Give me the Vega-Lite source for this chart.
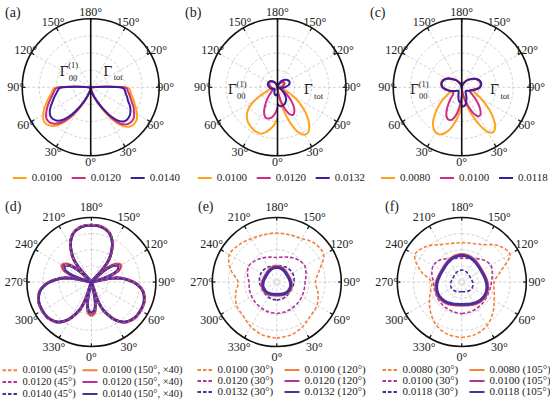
{
  "$schema": "https://vega.github.io/schema/vega-lite/v6.json",
  "padding": 0,
  "background": "white",
  "spacing": 0,
  "config": {
    "view": {"stroke": null},
    "axis": {"disable": true},
    "font": "Liberation Serif",
    "text": {"font": "Liberation Serif", "color": "#222"},
    "legend": {"padding": 0}
  },
  "datasets": {
    "ring": [{"r": 0.25}, {"r": 0.5}, {"r": 0.75}],
    "ang": [
      {"a": 0, "h": "0°", "f": "0°"}, {"a": 30, "h": "30°", "f": "30°"}, {"a": 60, "h": "60°", "f": "60°"},
      {"a": 90, "h": "90°", "f": "90°"}, {"a": 120, "h": "120°", "f": "120°"}, {"a": 150, "h": "150°", "f": "150°"},
      {"a": 180, "h": "180°", "f": "180°"}, {"a": 210, "h": "150°", "f": "210°"}, {"a": 240, "h": "120°", "f": "240°"},
      {"a": 270, "h": "90°", "f": "270°"}, {"a": 300, "h": "60°", "f": "300°"}, {"a": 330, "h": "30°", "f": "330°"}
    ],
    "A": [
      {"s":"0.0100","q":"t","a":0,"r":0},{"s":"0.0100","q":"t","a":10,"r":0.06},{"s":"0.0100","q":"t","a":20,"r":0.17},{"s":"0.0100","q":"t","a":25,"r":0.27},{"s":"0.0100","q":"t","a":30,"r":0.42},{"s":"0.0100","q":"t","a":35,"r":0.6},{"s":"0.0100","q":"t","a":40,"r":0.74},{"s":"0.0100","q":"t","a":45,"r":0.81},{"s":"0.0100","q":"t","a":50,"r":0.83},{"s":"0.0100","q":"t","a":55,"r":0.82},{"s":"0.0100","q":"t","a":60,"r":0.78},{"s":"0.0100","q":"t","a":65,"r":0.73},{"s":"0.0100","q":"t","a":70,"r":0.68},{"s":"0.0100","q":"t","a":75,"r":0.64},{"s":"0.0100","q":"t","a":80,"r":0.6},{"s":"0.0100","q":"t","a":85,"r":0.58},{"s":"0.0100","q":"t","a":88,"r":0.56},{"s":"0.0100","q":"t","a":90,"r":0.5},{"s":"0.0100","q":"t","a":92,"r":0.25},{"s":"0.0100","q":"t","a":94,"r":0.08},{"s":"0.0100","q":"t","a":96,"r":0},
      {"s":"0.0100","q":"l","a":0,"r":0},{"s":"0.0100","q":"l","a":10,"r":0.05},{"s":"0.0100","q":"l","a":20,"r":0.15},{"s":"0.0100","q":"l","a":25,"r":0.25},{"s":"0.0100","q":"l","a":30,"r":0.4},{"s":"0.0100","q":"l","a":35,"r":0.57},{"s":"0.0100","q":"l","a":40,"r":0.71},{"s":"0.0100","q":"l","a":45,"r":0.8},{"s":"0.0100","q":"l","a":50,"r":0.84},{"s":"0.0100","q":"l","a":55,"r":0.84},{"s":"0.0100","q":"l","a":60,"r":0.8},{"s":"0.0100","q":"l","a":65,"r":0.75},{"s":"0.0100","q":"l","a":70,"r":0.69},{"s":"0.0100","q":"l","a":75,"r":0.64},{"s":"0.0100","q":"l","a":80,"r":0.59},{"s":"0.0100","q":"l","a":85,"r":0.56},{"s":"0.0100","q":"l","a":88,"r":0.54},{"s":"0.0100","q":"l","a":90,"r":0.48},{"s":"0.0100","q":"l","a":92,"r":0.24},{"s":"0.0100","q":"l","a":94,"r":0.08},{"s":"0.0100","q":"l","a":96,"r":0},
      {"s":"0.0120","q":"t","a":0,"r":0},{"s":"0.0120","q":"t","a":10,"r":0.06},{"s":"0.0120","q":"t","a":20,"r":0.16},{"s":"0.0120","q":"t","a":25,"r":0.25},{"s":"0.0120","q":"t","a":30,"r":0.39},{"s":"0.0120","q":"t","a":35,"r":0.56},{"s":"0.0120","q":"t","a":40,"r":0.7},{"s":"0.0120","q":"t","a":45,"r":0.76},{"s":"0.0120","q":"t","a":50,"r":0.78},{"s":"0.0120","q":"t","a":55,"r":0.77},{"s":"0.0120","q":"t","a":60,"r":0.73},{"s":"0.0120","q":"t","a":65,"r":0.69},{"s":"0.0120","q":"t","a":70,"r":0.64},{"s":"0.0120","q":"t","a":75,"r":0.6},{"s":"0.0120","q":"t","a":80,"r":0.57},{"s":"0.0120","q":"t","a":85,"r":0.54},{"s":"0.0120","q":"t","a":88,"r":0.53},{"s":"0.0120","q":"t","a":90,"r":0.47},{"s":"0.0120","q":"t","a":92,"r":0.24},{"s":"0.0120","q":"t","a":94,"r":0.08},{"s":"0.0120","q":"t","a":96,"r":0},
      {"s":"0.0120","q":"l","a":0,"r":0},{"s":"0.0120","q":"l","a":10,"r":0.05},{"s":"0.0120","q":"l","a":20,"r":0.14},{"s":"0.0120","q":"l","a":25,"r":0.24},{"s":"0.0120","q":"l","a":30,"r":0.38},{"s":"0.0120","q":"l","a":35,"r":0.54},{"s":"0.0120","q":"l","a":40,"r":0.67},{"s":"0.0120","q":"l","a":45,"r":0.75},{"s":"0.0120","q":"l","a":50,"r":0.79},{"s":"0.0120","q":"l","a":55,"r":0.79},{"s":"0.0120","q":"l","a":60,"r":0.75},{"s":"0.0120","q":"l","a":65,"r":0.7},{"s":"0.0120","q":"l","a":70,"r":0.65},{"s":"0.0120","q":"l","a":75,"r":0.6},{"s":"0.0120","q":"l","a":80,"r":0.56},{"s":"0.0120","q":"l","a":85,"r":0.53},{"s":"0.0120","q":"l","a":88,"r":0.51},{"s":"0.0120","q":"l","a":90,"r":0.45},{"s":"0.0120","q":"l","a":92,"r":0.23},{"s":"0.0120","q":"l","a":94,"r":0.08},{"s":"0.0120","q":"l","a":96,"r":0},
      {"s":"0.0140","q":"t","a":0,"r":0},{"s":"0.0140","q":"t","a":10,"r":0.05},{"s":"0.0140","q":"t","a":20,"r":0.15},{"s":"0.0140","q":"t","a":25,"r":0.23},{"s":"0.0140","q":"t","a":30,"r":0.36},{"s":"0.0140","q":"t","a":35,"r":0.52},{"s":"0.0140","q":"t","a":40,"r":0.64},{"s":"0.0140","q":"t","a":45,"r":0.7},{"s":"0.0140","q":"t","a":50,"r":0.71},{"s":"0.0140","q":"t","a":55,"r":0.7},{"s":"0.0140","q":"t","a":60,"r":0.67},{"s":"0.0140","q":"t","a":65,"r":0.63},{"s":"0.0140","q":"t","a":70,"r":0.58},{"s":"0.0140","q":"t","a":75,"r":0.55},{"s":"0.0140","q":"t","a":80,"r":0.52},{"s":"0.0140","q":"t","a":85,"r":0.5},{"s":"0.0140","q":"t","a":88,"r":0.48},{"s":"0.0140","q":"t","a":90,"r":0.43},{"s":"0.0140","q":"t","a":92,"r":0.22},{"s":"0.0140","q":"t","a":94,"r":0.07},{"s":"0.0140","q":"t","a":96,"r":0},
      {"s":"0.0140","q":"l","a":0,"r":0},{"s":"0.0140","q":"l","a":10,"r":0.04},{"s":"0.0140","q":"l","a":20,"r":0.13},{"s":"0.0140","q":"l","a":25,"r":0.22},{"s":"0.0140","q":"l","a":30,"r":0.34},{"s":"0.0140","q":"l","a":35,"r":0.49},{"s":"0.0140","q":"l","a":40,"r":0.61},{"s":"0.0140","q":"l","a":45,"r":0.69},{"s":"0.0140","q":"l","a":50,"r":0.72},{"s":"0.0140","q":"l","a":55,"r":0.72},{"s":"0.0140","q":"l","a":60,"r":0.69},{"s":"0.0140","q":"l","a":65,"r":0.64},{"s":"0.0140","q":"l","a":70,"r":0.59},{"s":"0.0140","q":"l","a":75,"r":0.55},{"s":"0.0140","q":"l","a":80,"r":0.51},{"s":"0.0140","q":"l","a":85,"r":0.48},{"s":"0.0140","q":"l","a":88,"r":0.46},{"s":"0.0140","q":"l","a":90,"r":0.41},{"s":"0.0140","q":"l","a":92,"r":0.21},{"s":"0.0140","q":"l","a":94,"r":0.07},{"s":"0.0140","q":"l","a":96,"r":0}
    ],
    "B": [
      {"s":"0.0100","q":"t","a":0,"r":0},{"s":"0.0100","q":"t","a":5,"r":0.05},{"s":"0.0100","q":"t","a":10,"r":0.18},{"s":"0.0100","q":"t","a":15,"r":0.36},{"s":"0.0100","q":"t","a":20,"r":0.56},{"s":"0.0100","q":"t","a":25,"r":0.73},{"s":"0.0100","q":"t","a":30,"r":0.8},{"s":"0.0100","q":"t","a":35,"r":0.79},{"s":"0.0100","q":"t","a":40,"r":0.72},{"s":"0.0100","q":"t","a":45,"r":0.62},{"s":"0.0100","q":"t","a":50,"r":0.5},{"s":"0.0100","q":"t","a":55,"r":0.38},{"s":"0.0100","q":"t","a":60,"r":0.27},{"s":"0.0100","q":"t","a":65,"r":0.18},{"s":"0.0100","q":"t","a":70,"r":0.1},{"s":"0.0100","q":"t","a":75,"r":0.05},{"s":"0.0100","q":"t","a":80,"r":0.02},{"s":"0.0100","q":"t","a":85,"r":0.01},{"s":"0.0100","q":"t","a":90,"r":0.02},{"s":"0.0100","q":"t","a":100,"r":0.05},{"s":"0.0100","q":"t","a":110,"r":0.08},{"s":"0.0100","q":"t","a":120,"r":0.1},{"s":"0.0100","q":"t","a":130,"r":0.1},{"s":"0.0100","q":"t","a":140,"r":0.09},{"s":"0.0100","q":"t","a":150,"r":0.06},{"s":"0.0100","q":"t","a":160,"r":0.03},{"s":"0.0100","q":"t","a":170,"r":0.01},{"s":"0.0100","q":"t","a":180,"r":0},
      {"s":"0.0100","q":"l","a":0,"r":0.45},{"s":"0.0100","q":"l","a":5,"r":0.55},{"s":"0.0100","q":"l","a":10,"r":0.62},{"s":"0.0100","q":"l","a":15,"r":0.68},{"s":"0.0100","q":"l","a":20,"r":0.72},{"s":"0.0100","q":"l","a":25,"r":0.72},{"s":"0.0100","q":"l","a":30,"r":0.71},{"s":"0.0100","q":"l","a":35,"r":0.69},{"s":"0.0100","q":"l","a":40,"r":0.67},{"s":"0.0100","q":"l","a":45,"r":0.63},{"s":"0.0100","q":"l","a":50,"r":0.58},{"s":"0.0100","q":"l","a":55,"r":0.5},{"s":"0.0100","q":"l","a":60,"r":0.38},{"s":"0.0100","q":"l","a":65,"r":0.26},{"s":"0.0100","q":"l","a":70,"r":0.17},{"s":"0.0100","q":"l","a":75,"r":0.11},{"s":"0.0100","q":"l","a":80,"r":0.08},{"s":"0.0100","q":"l","a":85,"r":0.08},{"s":"0.0100","q":"l","a":90,"r":0.09},{"s":"0.0100","q":"l","a":100,"r":0.11},{"s":"0.0100","q":"l","a":110,"r":0.13},{"s":"0.0100","q":"l","a":120,"r":0.14},{"s":"0.0100","q":"l","a":130,"r":0.14},{"s":"0.0100","q":"l","a":140,"r":0.12},{"s":"0.0100","q":"l","a":150,"r":0.09},{"s":"0.0100","q":"l","a":160,"r":0.05},{"s":"0.0100","q":"l","a":170,"r":0.02},{"s":"0.0100","q":"l","a":180,"r":0},
      {"s":"0.0120","q":"t","a":0,"r":0},{"s":"0.0120","q":"t","a":5,"r":0.04},{"s":"0.0120","q":"t","a":10,"r":0.12},{"s":"0.0120","q":"t","a":15,"r":0.24},{"s":"0.0120","q":"t","a":20,"r":0.36},{"s":"0.0120","q":"t","a":25,"r":0.44},{"s":"0.0120","q":"t","a":30,"r":0.46},{"s":"0.0120","q":"t","a":35,"r":0.43},{"s":"0.0120","q":"t","a":40,"r":0.37},{"s":"0.0120","q":"t","a":45,"r":0.29},{"s":"0.0120","q":"t","a":50,"r":0.21},{"s":"0.0120","q":"t","a":55,"r":0.14},{"s":"0.0120","q":"t","a":60,"r":0.09},{"s":"0.0120","q":"t","a":65,"r":0.06},{"s":"0.0120","q":"t","a":70,"r":0.04},{"s":"0.0120","q":"t","a":75,"r":0.03},{"s":"0.0120","q":"t","a":80,"r":0.03},{"s":"0.0120","q":"t","a":85,"r":0.04},{"s":"0.0120","q":"t","a":90,"r":0.05},{"s":"0.0120","q":"t","a":100,"r":0.08},{"s":"0.0120","q":"t","a":110,"r":0.1},{"s":"0.0120","q":"t","a":120,"r":0.12},{"s":"0.0120","q":"t","a":130,"r":0.12},{"s":"0.0120","q":"t","a":140,"r":0.1},{"s":"0.0120","q":"t","a":150,"r":0.07},{"s":"0.0120","q":"t","a":160,"r":0.04},{"s":"0.0120","q":"t","a":170,"r":0.01},{"s":"0.0120","q":"t","a":180,"r":0},
      {"s":"0.0120","q":"l","a":0,"r":0.3},{"s":"0.0120","q":"l","a":5,"r":0.38},{"s":"0.0120","q":"l","a":10,"r":0.44},{"s":"0.0120","q":"l","a":15,"r":0.47},{"s":"0.0120","q":"l","a":20,"r":0.48},{"s":"0.0120","q":"l","a":25,"r":0.45},{"s":"0.0120","q":"l","a":30,"r":0.39},{"s":"0.0120","q":"l","a":35,"r":0.31},{"s":"0.0120","q":"l","a":40,"r":0.24},{"s":"0.0120","q":"l","a":45,"r":0.18},{"s":"0.0120","q":"l","a":50,"r":0.13},{"s":"0.0120","q":"l","a":55,"r":0.1},{"s":"0.0120","q":"l","a":60,"r":0.08},{"s":"0.0120","q":"l","a":65,"r":0.07},{"s":"0.0120","q":"l","a":70,"r":0.06},{"s":"0.0120","q":"l","a":75,"r":0.06},{"s":"0.0120","q":"l","a":80,"r":0.07},{"s":"0.0120","q":"l","a":85,"r":0.08},{"s":"0.0120","q":"l","a":90,"r":0.09},{"s":"0.0120","q":"l","a":100,"r":0.11},{"s":"0.0120","q":"l","a":110,"r":0.13},{"s":"0.0120","q":"l","a":120,"r":0.14},{"s":"0.0120","q":"l","a":130,"r":0.13},{"s":"0.0120","q":"l","a":140,"r":0.11},{"s":"0.0120","q":"l","a":150,"r":0.08},{"s":"0.0120","q":"l","a":160,"r":0.05},{"s":"0.0120","q":"l","a":170,"r":0.02},{"s":"0.0120","q":"l","a":180,"r":0},
      {"s":"0.0132","q":"t","a":0,"r":0.24},{"s":"0.0132","q":"t","a":5,"r":0.27},{"s":"0.0132","q":"t","a":10,"r":0.28},{"s":"0.0132","q":"t","a":15,"r":0.28},{"s":"0.0132","q":"t","a":20,"r":0.27},{"s":"0.0132","q":"t","a":25,"r":0.26},{"s":"0.0132","q":"t","a":30,"r":0.24},{"s":"0.0132","q":"t","a":35,"r":0.22},{"s":"0.0132","q":"t","a":40,"r":0.19},{"s":"0.0132","q":"t","a":45,"r":0.15},{"s":"0.0132","q":"t","a":50,"r":0.11},{"s":"0.0132","q":"t","a":55,"r":0.08},{"s":"0.0132","q":"t","a":60,"r":0.05},{"s":"0.0132","q":"t","a":65,"r":0.03},{"s":"0.0132","q":"t","a":70,"r":0.02},{"s":"0.0132","q":"t","a":75,"r":0.03},{"s":"0.0132","q":"t","a":80,"r":0.05},{"s":"0.0132","q":"t","a":85,"r":0.08},{"s":"0.0132","q":"t","a":90,"r":0.11},{"s":"0.0132","q":"t","a":100,"r":0.16},{"s":"0.0132","q":"t","a":110,"r":0.19},{"s":"0.0132","q":"t","a":120,"r":0.19},{"s":"0.0132","q":"t","a":130,"r":0.17},{"s":"0.0132","q":"t","a":140,"r":0.14},{"s":"0.0132","q":"t","a":150,"r":0.1},{"s":"0.0132","q":"t","a":160,"r":0.05},{"s":"0.0132","q":"t","a":170,"r":0.02},{"s":"0.0132","q":"t","a":180,"r":0},
      {"s":"0.0132","q":"l","a":0,"r":0.1},{"s":"0.0132","q":"l","a":5,"r":0.11},{"s":"0.0132","q":"l","a":10,"r":0.12},{"s":"0.0132","q":"l","a":15,"r":0.12},{"s":"0.0132","q":"l","a":20,"r":0.11},{"s":"0.0132","q":"l","a":25,"r":0.1},{"s":"0.0132","q":"l","a":30,"r":0.09},{"s":"0.0132","q":"l","a":35,"r":0.08},{"s":"0.0132","q":"l","a":40,"r":0.07},{"s":"0.0132","q":"l","a":45,"r":0.06},{"s":"0.0132","q":"l","a":50,"r":0.05},{"s":"0.0132","q":"l","a":55,"r":0.05},{"s":"0.0132","q":"l","a":60,"r":0.05},{"s":"0.0132","q":"l","a":65,"r":0.06},{"s":"0.0132","q":"l","a":70,"r":0.07},{"s":"0.0132","q":"l","a":75,"r":0.08},{"s":"0.0132","q":"l","a":80,"r":0.1},{"s":"0.0132","q":"l","a":85,"r":0.11},{"s":"0.0132","q":"l","a":90,"r":0.12},{"s":"0.0132","q":"l","a":100,"r":0.14},{"s":"0.0132","q":"l","a":110,"r":0.15},{"s":"0.0132","q":"l","a":120,"r":0.15},{"s":"0.0132","q":"l","a":130,"r":0.14},{"s":"0.0132","q":"l","a":140,"r":0.11},{"s":"0.0132","q":"l","a":150,"r":0.08},{"s":"0.0132","q":"l","a":160,"r":0.04},{"s":"0.0132","q":"l","a":170,"r":0.02},{"s":"0.0132","q":"l","a":180,"r":0}
    ],
    "C": [
      {"s":"0.0080","q":"t","a":0,"r":0},{"s":"0.0080","q":"t","a":5,"r":0.04},{"s":"0.0080","q":"t","a":10,"r":0.12},{"s":"0.0080","q":"t","a":15,"r":0.25},{"s":"0.0080","q":"t","a":20,"r":0.42},{"s":"0.0080","q":"t","a":25,"r":0.6},{"s":"0.0080","q":"t","a":30,"r":0.75},{"s":"0.0080","q":"t","a":35,"r":0.8},{"s":"0.0080","q":"t","a":40,"r":0.76},{"s":"0.0080","q":"t","a":45,"r":0.66},{"s":"0.0080","q":"t","a":50,"r":0.54},{"s":"0.0080","q":"t","a":55,"r":0.42},{"s":"0.0080","q":"t","a":60,"r":0.32},{"s":"0.0080","q":"t","a":65,"r":0.24},{"s":"0.0080","q":"t","a":70,"r":0.19},{"s":"0.0080","q":"t","a":75,"r":0.17},{"s":"0.0080","q":"t","a":80,"r":0.18},{"s":"0.0080","q":"t","a":85,"r":0.22},{"s":"0.0080","q":"t","a":90,"r":0.26},{"s":"0.0080","q":"t","a":100,"r":0.29},{"s":"0.0080","q":"t","a":110,"r":0.28},{"s":"0.0080","q":"t","a":120,"r":0.24},{"s":"0.0080","q":"t","a":130,"r":0.19},{"s":"0.0080","q":"t","a":140,"r":0.14},{"s":"0.0080","q":"t","a":150,"r":0.09},{"s":"0.0080","q":"t","a":160,"r":0.05},{"s":"0.0080","q":"t","a":170,"r":0.02},{"s":"0.0080","q":"t","a":180,"r":0},
      {"s":"0.0080","q":"l","a":0,"r":0.25},{"s":"0.0080","q":"l","a":5,"r":0.38},{"s":"0.0080","q":"l","a":10,"r":0.5},{"s":"0.0080","q":"l","a":15,"r":0.62},{"s":"0.0080","q":"l","a":20,"r":0.71},{"s":"0.0080","q":"l","a":25,"r":0.76},{"s":"0.0080","q":"l","a":30,"r":0.76},{"s":"0.0080","q":"l","a":35,"r":0.72},{"s":"0.0080","q":"l","a":40,"r":0.65},{"s":"0.0080","q":"l","a":45,"r":0.55},{"s":"0.0080","q":"l","a":50,"r":0.45},{"s":"0.0080","q":"l","a":55,"r":0.36},{"s":"0.0080","q":"l","a":60,"r":0.27},{"s":"0.0080","q":"l","a":65,"r":0.21},{"s":"0.0080","q":"l","a":70,"r":0.18},{"s":"0.0080","q":"l","a":75,"r":0.18},{"s":"0.0080","q":"l","a":80,"r":0.21},{"s":"0.0080","q":"l","a":85,"r":0.25},{"s":"0.0080","q":"l","a":90,"r":0.28},{"s":"0.0080","q":"l","a":100,"r":0.31},{"s":"0.0080","q":"l","a":110,"r":0.3},{"s":"0.0080","q":"l","a":120,"r":0.26},{"s":"0.0080","q":"l","a":130,"r":0.2},{"s":"0.0080","q":"l","a":140,"r":0.14},{"s":"0.0080","q":"l","a":150,"r":0.09},{"s":"0.0080","q":"l","a":160,"r":0.05},{"s":"0.0080","q":"l","a":170,"r":0.02},{"s":"0.0080","q":"l","a":180,"r":0},
      {"s":"0.0100","q":"t","a":0,"r":0},{"s":"0.0100","q":"t","a":5,"r":0.03},{"s":"0.0100","q":"t","a":10,"r":0.1},{"s":"0.0100","q":"t","a":15,"r":0.2},{"s":"0.0100","q":"t","a":20,"r":0.32},{"s":"0.0100","q":"t","a":25,"r":0.43},{"s":"0.0100","q":"t","a":30,"r":0.49},{"s":"0.0100","q":"t","a":35,"r":0.48},{"s":"0.0100","q":"t","a":40,"r":0.42},{"s":"0.0100","q":"t","a":45,"r":0.34},{"s":"0.0100","q":"t","a":50,"r":0.26},{"s":"0.0100","q":"t","a":55,"r":0.19},{"s":"0.0100","q":"t","a":60,"r":0.15},{"s":"0.0100","q":"t","a":65,"r":0.13},{"s":"0.0100","q":"t","a":70,"r":0.13},{"s":"0.0100","q":"t","a":75,"r":0.15},{"s":"0.0100","q":"t","a":80,"r":0.18},{"s":"0.0100","q":"t","a":85,"r":0.22},{"s":"0.0100","q":"t","a":90,"r":0.26},{"s":"0.0100","q":"t","a":100,"r":0.28},{"s":"0.0100","q":"t","a":110,"r":0.28},{"s":"0.0100","q":"t","a":120,"r":0.24},{"s":"0.0100","q":"t","a":130,"r":0.19},{"s":"0.0100","q":"t","a":140,"r":0.14},{"s":"0.0100","q":"t","a":150,"r":0.09},{"s":"0.0100","q":"t","a":160,"r":0.05},{"s":"0.0100","q":"t","a":170,"r":0.02},{"s":"0.0100","q":"t","a":180,"r":0},
      {"s":"0.0100","q":"l","a":0,"r":0.12},{"s":"0.0100","q":"l","a":5,"r":0.25},{"s":"0.0100","q":"l","a":10,"r":0.38},{"s":"0.0100","q":"l","a":15,"r":0.47},{"s":"0.0100","q":"l","a":20,"r":0.51},{"s":"0.0100","q":"l","a":25,"r":0.5},{"s":"0.0100","q":"l","a":30,"r":0.45},{"s":"0.0100","q":"l","a":35,"r":0.37},{"s":"0.0100","q":"l","a":40,"r":0.29},{"s":"0.0100","q":"l","a":45,"r":0.22},{"s":"0.0100","q":"l","a":50,"r":0.17},{"s":"0.0100","q":"l","a":55,"r":0.15},{"s":"0.0100","q":"l","a":60,"r":0.14},{"s":"0.0100","q":"l","a":65,"r":0.15},{"s":"0.0100","q":"l","a":70,"r":0.17},{"s":"0.0100","q":"l","a":75,"r":0.19},{"s":"0.0100","q":"l","a":80,"r":0.22},{"s":"0.0100","q":"l","a":85,"r":0.25},{"s":"0.0100","q":"l","a":90,"r":0.28},{"s":"0.0100","q":"l","a":100,"r":0.3},{"s":"0.0100","q":"l","a":110,"r":0.29},{"s":"0.0100","q":"l","a":120,"r":0.25},{"s":"0.0100","q":"l","a":130,"r":0.19},{"s":"0.0100","q":"l","a":140,"r":0.14},{"s":"0.0100","q":"l","a":150,"r":0.09},{"s":"0.0100","q":"l","a":160,"r":0.05},{"s":"0.0100","q":"l","a":170,"r":0.02},{"s":"0.0100","q":"l","a":180,"r":0},
      {"s":"0.0118","q":"t","a":0,"r":0.27},{"s":"0.0118","q":"t","a":5,"r":0.28},{"s":"0.0118","q":"t","a":10,"r":0.27},{"s":"0.0118","q":"t","a":15,"r":0.24},{"s":"0.0118","q":"t","a":20,"r":0.2},{"s":"0.0118","q":"t","a":25,"r":0.16},{"s":"0.0118","q":"t","a":30,"r":0.13},{"s":"0.0118","q":"t","a":35,"r":0.1},{"s":"0.0118","q":"t","a":40,"r":0.09},{"s":"0.0118","q":"t","a":45,"r":0.08},{"s":"0.0118","q":"t","a":50,"r":0.08},{"s":"0.0118","q":"t","a":55,"r":0.09},{"s":"0.0118","q":"t","a":60,"r":0.1},{"s":"0.0118","q":"t","a":65,"r":0.12},{"s":"0.0118","q":"t","a":70,"r":0.14},{"s":"0.0118","q":"t","a":75,"r":0.17},{"s":"0.0118","q":"t","a":80,"r":0.2},{"s":"0.0118","q":"t","a":85,"r":0.24},{"s":"0.0118","q":"t","a":90,"r":0.27},{"s":"0.0118","q":"t","a":100,"r":0.29},{"s":"0.0118","q":"t","a":110,"r":0.28},{"s":"0.0118","q":"t","a":120,"r":0.24},{"s":"0.0118","q":"t","a":130,"r":0.19},{"s":"0.0118","q":"t","a":140,"r":0.14},{"s":"0.0118","q":"t","a":150,"r":0.09},{"s":"0.0118","q":"t","a":160,"r":0.05},{"s":"0.0118","q":"t","a":170,"r":0.02},{"s":"0.0118","q":"t","a":180,"r":0},
      {"s":"0.0118","q":"l","a":0,"r":0.2},{"s":"0.0118","q":"l","a":5,"r":0.22},{"s":"0.0118","q":"l","a":10,"r":0.21},{"s":"0.0118","q":"l","a":15,"r":0.18},{"s":"0.0118","q":"l","a":20,"r":0.14},{"s":"0.0118","q":"l","a":25,"r":0.11},{"s":"0.0118","q":"l","a":30,"r":0.09},{"s":"0.0118","q":"l","a":35,"r":0.08},{"s":"0.0118","q":"l","a":40,"r":0.07},{"s":"0.0118","q":"l","a":45,"r":0.07},{"s":"0.0118","q":"l","a":50,"r":0.08},{"s":"0.0118","q":"l","a":55,"r":0.09},{"s":"0.0118","q":"l","a":60,"r":0.11},{"s":"0.0118","q":"l","a":65,"r":0.13},{"s":"0.0118","q":"l","a":70,"r":0.16},{"s":"0.0118","q":"l","a":75,"r":0.19},{"s":"0.0118","q":"l","a":80,"r":0.22},{"s":"0.0118","q":"l","a":85,"r":0.25},{"s":"0.0118","q":"l","a":90,"r":0.28},{"s":"0.0118","q":"l","a":100,"r":0.3},{"s":"0.0118","q":"l","a":110,"r":0.29},{"s":"0.0118","q":"l","a":120,"r":0.25},{"s":"0.0118","q":"l","a":130,"r":0.19},{"s":"0.0118","q":"l","a":140,"r":0.14},{"s":"0.0118","q":"l","a":150,"r":0.09},{"s":"0.0118","q":"l","a":160,"r":0.05},{"s":"0.0118","q":"l","a":170,"r":0.02},{"s":"0.0118","q":"l","a":180,"r":0}
    ],
    "DS": [
      {"k":"s1","a":0,"r":0.53},{"k":"s1","a":6,"r":0.48},{"k":"s1","a":10,"r":0.37},{"k":"s1","a":13,"r":0.21},{"k":"s1","a":16,"r":0},{"k":"s1","a":19,"r":0.28},{"k":"s1","a":22,"r":0.44},{"k":"s1","a":26,"r":0.55},{"k":"s1","a":32,"r":0.69},{"k":"s1","a":40,"r":0.81},{"k":"s1","a":50,"r":0.87},{"k":"s1","a":60,"r":0.88},{"k":"s1","a":70,"r":0.87},{"k":"s1","a":80,"r":0.81},{"k":"s1","a":88,"r":0.69},{"k":"s1","a":94,"r":0.55},{"k":"s1","a":98,"r":0.44},{"k":"s1","a":101,"r":0.28},{"k":"s1","a":104,"r":0},{"k":"s1","a":107,"r":0.21},{"k":"s1","a":110,"r":0.37},{"k":"s1","a":114,"r":0.48},
      {"k":"s1","a":120,"r":0.53},{"k":"s1","a":126,"r":0.48},{"k":"s1","a":130,"r":0.37},{"k":"s1","a":133,"r":0.21},{"k":"s1","a":136,"r":0},{"k":"s1","a":139,"r":0.28},{"k":"s1","a":142,"r":0.44},{"k":"s1","a":146,"r":0.55},{"k":"s1","a":152,"r":0.69},{"k":"s1","a":160,"r":0.81},{"k":"s1","a":170,"r":0.87},{"k":"s1","a":180,"r":0.88},{"k":"s1","a":190,"r":0.87},{"k":"s1","a":200,"r":0.81},{"k":"s1","a":208,"r":0.69},{"k":"s1","a":214,"r":0.55},{"k":"s1","a":218,"r":0.44},{"k":"s1","a":221,"r":0.28},{"k":"s1","a":224,"r":0},{"k":"s1","a":227,"r":0.21},{"k":"s1","a":230,"r":0.37},{"k":"s1","a":234,"r":0.48},
      {"k":"s1","a":240,"r":0.53},{"k":"s1","a":246,"r":0.48},{"k":"s1","a":250,"r":0.37},{"k":"s1","a":253,"r":0.21},{"k":"s1","a":256,"r":0},{"k":"s1","a":259,"r":0.28},{"k":"s1","a":262,"r":0.44},{"k":"s1","a":266,"r":0.55},{"k":"s1","a":272,"r":0.69},{"k":"s1","a":280,"r":0.81},{"k":"s1","a":290,"r":0.87},{"k":"s1","a":300,"r":0.88},{"k":"s1","a":310,"r":0.87},{"k":"s1","a":320,"r":0.81},{"k":"s1","a":328,"r":0.69},{"k":"s1","a":334,"r":0.55},{"k":"s1","a":338,"r":0.44},{"k":"s1","a":341,"r":0.28},{"k":"s1","a":344,"r":0},{"k":"s1","a":347,"r":0.21},{"k":"s1","a":350,"r":0.37},{"k":"s1","a":354,"r":0.48},{"k":"s1","a":360,"r":0.53},
      {"k":"s2","a":0,"r":0.51},{"k":"s2","a":6,"r":0.46},{"k":"s2","a":10,"r":0.36},{"k":"s2","a":13,"r":0.2},{"k":"s2","a":16,"r":0},{"k":"s2","a":19,"r":0.28},{"k":"s2","a":22,"r":0.44},{"k":"s2","a":26,"r":0.55},{"k":"s2","a":32,"r":0.69},{"k":"s2","a":40,"r":0.81},{"k":"s2","a":50,"r":0.87},{"k":"s2","a":60,"r":0.88},{"k":"s2","a":70,"r":0.87},{"k":"s2","a":80,"r":0.81},{"k":"s2","a":88,"r":0.69},{"k":"s2","a":94,"r":0.55},{"k":"s2","a":98,"r":0.44},{"k":"s2","a":101,"r":0.28},{"k":"s2","a":104,"r":0},{"k":"s2","a":107,"r":0.2},{"k":"s2","a":110,"r":0.36},{"k":"s2","a":114,"r":0.46},
      {"k":"s2","a":120,"r":0.51},{"k":"s2","a":126,"r":0.46},{"k":"s2","a":130,"r":0.36},{"k":"s2","a":133,"r":0.2},{"k":"s2","a":136,"r":0},{"k":"s2","a":139,"r":0.28},{"k":"s2","a":142,"r":0.44},{"k":"s2","a":146,"r":0.55},{"k":"s2","a":152,"r":0.69},{"k":"s2","a":160,"r":0.81},{"k":"s2","a":170,"r":0.87},{"k":"s2","a":180,"r":0.88},{"k":"s2","a":190,"r":0.87},{"k":"s2","a":200,"r":0.81},{"k":"s2","a":208,"r":0.69},{"k":"s2","a":214,"r":0.55},{"k":"s2","a":218,"r":0.44},{"k":"s2","a":221,"r":0.28},{"k":"s2","a":224,"r":0},{"k":"s2","a":227,"r":0.2},{"k":"s2","a":230,"r":0.36},{"k":"s2","a":234,"r":0.46},
      {"k":"s2","a":240,"r":0.51},{"k":"s2","a":246,"r":0.46},{"k":"s2","a":250,"r":0.36},{"k":"s2","a":253,"r":0.2},{"k":"s2","a":256,"r":0},{"k":"s2","a":259,"r":0.28},{"k":"s2","a":262,"r":0.44},{"k":"s2","a":266,"r":0.55},{"k":"s2","a":272,"r":0.69},{"k":"s2","a":280,"r":0.81},{"k":"s2","a":290,"r":0.87},{"k":"s2","a":300,"r":0.88},{"k":"s2","a":310,"r":0.87},{"k":"s2","a":320,"r":0.81},{"k":"s2","a":328,"r":0.69},{"k":"s2","a":334,"r":0.55},{"k":"s2","a":338,"r":0.44},{"k":"s2","a":341,"r":0.28},{"k":"s2","a":344,"r":0},{"k":"s2","a":347,"r":0.2},{"k":"s2","a":350,"r":0.36},{"k":"s2","a":354,"r":0.46},{"k":"s2","a":360,"r":0.51},
      {"k":"s3","a":0,"r":0.49},{"k":"s3","a":6,"r":0.44},{"k":"s3","a":10,"r":0.34},{"k":"s3","a":13,"r":0.19},{"k":"s3","a":16,"r":0},{"k":"s3","a":19,"r":0.28},{"k":"s3","a":22,"r":0.44},{"k":"s3","a":26,"r":0.55},{"k":"s3","a":32,"r":0.69},{"k":"s3","a":40,"r":0.81},{"k":"s3","a":50,"r":0.87},{"k":"s3","a":60,"r":0.88},{"k":"s3","a":70,"r":0.87},{"k":"s3","a":80,"r":0.81},{"k":"s3","a":88,"r":0.69},{"k":"s3","a":94,"r":0.55},{"k":"s3","a":98,"r":0.44},{"k":"s3","a":101,"r":0.28},{"k":"s3","a":104,"r":0},{"k":"s3","a":107,"r":0.19},{"k":"s3","a":110,"r":0.34},{"k":"s3","a":114,"r":0.44},
      {"k":"s3","a":120,"r":0.49},{"k":"s3","a":126,"r":0.44},{"k":"s3","a":130,"r":0.34},{"k":"s3","a":133,"r":0.19},{"k":"s3","a":136,"r":0},{"k":"s3","a":139,"r":0.28},{"k":"s3","a":142,"r":0.44},{"k":"s3","a":146,"r":0.55},{"k":"s3","a":152,"r":0.69},{"k":"s3","a":160,"r":0.81},{"k":"s3","a":170,"r":0.87},{"k":"s3","a":180,"r":0.88},{"k":"s3","a":190,"r":0.87},{"k":"s3","a":200,"r":0.81},{"k":"s3","a":208,"r":0.69},{"k":"s3","a":214,"r":0.55},{"k":"s3","a":218,"r":0.44},{"k":"s3","a":221,"r":0.28},{"k":"s3","a":224,"r":0},{"k":"s3","a":227,"r":0.19},{"k":"s3","a":230,"r":0.34},{"k":"s3","a":234,"r":0.44},
      {"k":"s3","a":240,"r":0.49},{"k":"s3","a":246,"r":0.44},{"k":"s3","a":250,"r":0.34},{"k":"s3","a":253,"r":0.19},{"k":"s3","a":256,"r":0},{"k":"s3","a":259,"r":0.28},{"k":"s3","a":262,"r":0.44},{"k":"s3","a":266,"r":0.55},{"k":"s3","a":272,"r":0.69},{"k":"s3","a":280,"r":0.81},{"k":"s3","a":290,"r":0.87},{"k":"s3","a":300,"r":0.88},{"k":"s3","a":310,"r":0.87},{"k":"s3","a":320,"r":0.81},{"k":"s3","a":328,"r":0.69},{"k":"s3","a":334,"r":0.55},{"k":"s3","a":338,"r":0.44},{"k":"s3","a":341,"r":0.28},{"k":"s3","a":344,"r":0},{"k":"s3","a":347,"r":0.19},{"k":"s3","a":350,"r":0.34},{"k":"s3","a":354,"r":0.44},{"k":"s3","a":360,"r":0.49}
    ],
    "DD": [
      {"k":"d1","a":0,"r":0.5},{"k":"d1","a":6,"r":0.45},{"k":"d1","a":10,"r":0.35},{"k":"d1","a":13,"r":0.2},{"k":"d1","a":16,"r":0},{"k":"d1","a":19,"r":0.28},{"k":"d1","a":22,"r":0.44},{"k":"d1","a":26,"r":0.56},{"k":"d1","a":32,"r":0.7},{"k":"d1","a":40,"r":0.82},{"k":"d1","a":50,"r":0.88},{"k":"d1","a":60,"r":0.89},{"k":"d1","a":70,"r":0.88},{"k":"d1","a":80,"r":0.82},{"k":"d1","a":88,"r":0.7},{"k":"d1","a":94,"r":0.56},{"k":"d1","a":98,"r":0.44},{"k":"d1","a":101,"r":0.28},{"k":"d1","a":104,"r":0},{"k":"d1","a":107,"r":0.2},{"k":"d1","a":110,"r":0.35},{"k":"d1","a":114,"r":0.45},
      {"k":"d1","a":120,"r":0.5},{"k":"d1","a":126,"r":0.45},{"k":"d1","a":130,"r":0.35},{"k":"d1","a":133,"r":0.2},{"k":"d1","a":136,"r":0},{"k":"d1","a":139,"r":0.28},{"k":"d1","a":142,"r":0.44},{"k":"d1","a":146,"r":0.56},{"k":"d1","a":152,"r":0.7},{"k":"d1","a":160,"r":0.82},{"k":"d1","a":170,"r":0.88},{"k":"d1","a":180,"r":0.89},{"k":"d1","a":190,"r":0.88},{"k":"d1","a":200,"r":0.82},{"k":"d1","a":208,"r":0.7},{"k":"d1","a":214,"r":0.56},{"k":"d1","a":218,"r":0.44},{"k":"d1","a":221,"r":0.28},{"k":"d1","a":224,"r":0},{"k":"d1","a":227,"r":0.2},{"k":"d1","a":230,"r":0.35},{"k":"d1","a":234,"r":0.45},
      {"k":"d1","a":240,"r":0.5},{"k":"d1","a":246,"r":0.45},{"k":"d1","a":250,"r":0.35},{"k":"d1","a":253,"r":0.2},{"k":"d1","a":256,"r":0},{"k":"d1","a":259,"r":0.28},{"k":"d1","a":262,"r":0.44},{"k":"d1","a":266,"r":0.56},{"k":"d1","a":272,"r":0.7},{"k":"d1","a":280,"r":0.82},{"k":"d1","a":290,"r":0.88},{"k":"d1","a":300,"r":0.89},{"k":"d1","a":310,"r":0.88},{"k":"d1","a":320,"r":0.82},{"k":"d1","a":328,"r":0.7},{"k":"d1","a":334,"r":0.56},{"k":"d1","a":338,"r":0.44},{"k":"d1","a":341,"r":0.28},{"k":"d1","a":344,"r":0},{"k":"d1","a":347,"r":0.2},{"k":"d1","a":350,"r":0.35},{"k":"d1","a":354,"r":0.45},{"k":"d1","a":360,"r":0.5},
      {"k":"d2","a":0,"r":0.49},{"k":"d2","a":6,"r":0.44},{"k":"d2","a":10,"r":0.34},{"k":"d2","a":13,"r":0.19},{"k":"d2","a":16,"r":0},{"k":"d2","a":19,"r":0.28},{"k":"d2","a":22,"r":0.44},{"k":"d2","a":26,"r":0.56},{"k":"d2","a":32,"r":0.7},{"k":"d2","a":40,"r":0.815},{"k":"d2","a":50,"r":0.875},{"k":"d2","a":60,"r":0.885},{"k":"d2","a":70,"r":0.875},{"k":"d2","a":80,"r":0.815},{"k":"d2","a":88,"r":0.7},{"k":"d2","a":94,"r":0.56},{"k":"d2","a":98,"r":0.44},{"k":"d2","a":101,"r":0.28},{"k":"d2","a":104,"r":0},{"k":"d2","a":107,"r":0.19},{"k":"d2","a":110,"r":0.34},{"k":"d2","a":114,"r":0.44},
      {"k":"d2","a":120,"r":0.49},{"k":"d2","a":126,"r":0.44},{"k":"d2","a":130,"r":0.34},{"k":"d2","a":133,"r":0.19},{"k":"d2","a":136,"r":0},{"k":"d2","a":139,"r":0.28},{"k":"d2","a":142,"r":0.44},{"k":"d2","a":146,"r":0.56},{"k":"d2","a":152,"r":0.7},{"k":"d2","a":160,"r":0.815},{"k":"d2","a":170,"r":0.875},{"k":"d2","a":180,"r":0.885},{"k":"d2","a":190,"r":0.875},{"k":"d2","a":200,"r":0.815},{"k":"d2","a":208,"r":0.7},{"k":"d2","a":214,"r":0.56},{"k":"d2","a":218,"r":0.44},{"k":"d2","a":221,"r":0.28},{"k":"d2","a":224,"r":0},{"k":"d2","a":227,"r":0.19},{"k":"d2","a":230,"r":0.34},{"k":"d2","a":234,"r":0.44},
      {"k":"d2","a":240,"r":0.49},{"k":"d2","a":246,"r":0.44},{"k":"d2","a":250,"r":0.34},{"k":"d2","a":253,"r":0.19},{"k":"d2","a":256,"r":0},{"k":"d2","a":259,"r":0.28},{"k":"d2","a":262,"r":0.44},{"k":"d2","a":266,"r":0.56},{"k":"d2","a":272,"r":0.7},{"k":"d2","a":280,"r":0.815},{"k":"d2","a":290,"r":0.875},{"k":"d2","a":300,"r":0.885},{"k":"d2","a":310,"r":0.875},{"k":"d2","a":320,"r":0.815},{"k":"d2","a":328,"r":0.7},{"k":"d2","a":334,"r":0.56},{"k":"d2","a":338,"r":0.44},{"k":"d2","a":341,"r":0.28},{"k":"d2","a":344,"r":0},{"k":"d2","a":347,"r":0.19},{"k":"d2","a":350,"r":0.34},{"k":"d2","a":354,"r":0.44},{"k":"d2","a":360,"r":0.49},
      {"k":"d3","a":0,"r":0.48},{"k":"d3","a":6,"r":0.43},{"k":"d3","a":10,"r":0.33},{"k":"d3","a":13,"r":0.18},{"k":"d3","a":16,"r":0},{"k":"d3","a":19,"r":0.27},{"k":"d3","a":22,"r":0.43},{"k":"d3","a":26,"r":0.55},{"k":"d3","a":32,"r":0.69},{"k":"d3","a":40,"r":0.81},{"k":"d3","a":50,"r":0.87},{"k":"d3","a":60,"r":0.88},{"k":"d3","a":70,"r":0.87},{"k":"d3","a":80,"r":0.81},{"k":"d3","a":88,"r":0.69},{"k":"d3","a":94,"r":0.55},{"k":"d3","a":98,"r":0.43},{"k":"d3","a":101,"r":0.27},{"k":"d3","a":104,"r":0},{"k":"d3","a":107,"r":0.18},{"k":"d3","a":110,"r":0.33},{"k":"d3","a":114,"r":0.43},
      {"k":"d3","a":120,"r":0.48},{"k":"d3","a":126,"r":0.43},{"k":"d3","a":130,"r":0.33},{"k":"d3","a":133,"r":0.18},{"k":"d3","a":136,"r":0},{"k":"d3","a":139,"r":0.27},{"k":"d3","a":142,"r":0.43},{"k":"d3","a":146,"r":0.55},{"k":"d3","a":152,"r":0.69},{"k":"d3","a":160,"r":0.81},{"k":"d3","a":170,"r":0.87},{"k":"d3","a":180,"r":0.88},{"k":"d3","a":190,"r":0.87},{"k":"d3","a":200,"r":0.81},{"k":"d3","a":208,"r":0.69},{"k":"d3","a":214,"r":0.55},{"k":"d3","a":218,"r":0.43},{"k":"d3","a":221,"r":0.27},{"k":"d3","a":224,"r":0},{"k":"d3","a":227,"r":0.18},{"k":"d3","a":230,"r":0.33},{"k":"d3","a":234,"r":0.43},
      {"k":"d3","a":240,"r":0.48},{"k":"d3","a":246,"r":0.43},{"k":"d3","a":250,"r":0.33},{"k":"d3","a":253,"r":0.18},{"k":"d3","a":256,"r":0},{"k":"d3","a":259,"r":0.27},{"k":"d3","a":262,"r":0.43},{"k":"d3","a":266,"r":0.55},{"k":"d3","a":272,"r":0.69},{"k":"d3","a":280,"r":0.81},{"k":"d3","a":290,"r":0.87},{"k":"d3","a":300,"r":0.88},{"k":"d3","a":310,"r":0.87},{"k":"d3","a":320,"r":0.81},{"k":"d3","a":328,"r":0.69},{"k":"d3","a":334,"r":0.55},{"k":"d3","a":338,"r":0.43},{"k":"d3","a":341,"r":0.27},{"k":"d3","a":344,"r":0},{"k":"d3","a":347,"r":0.18},{"k":"d3","a":350,"r":0.33},{"k":"d3","a":354,"r":0.43},{"k":"d3","a":360,"r":0.48}
    ],
    "ES": [
      {"k":"s1","a":0,"r":0.205},{"k":"s1","a":15,"r":0.211},{"k":"s1","a":30,"r":0.225},{"k":"s1","a":45,"r":0.239},{"k":"s1","a":60,"r":0.245},{"k":"s1","a":75,"r":0.239},{"k":"s1","a":90,"r":0.225},{"k":"s1","a":105,"r":0.211},{"k":"s1","a":120,"r":0.205},{"k":"s1","a":135,"r":0.211},{"k":"s1","a":150,"r":0.225},{"k":"s1","a":165,"r":0.239},{"k":"s1","a":180,"r":0.245},{"k":"s1","a":195,"r":0.239},{"k":"s1","a":210,"r":0.225},{"k":"s1","a":225,"r":0.211},{"k":"s1","a":240,"r":0.205},{"k":"s1","a":255,"r":0.211},{"k":"s1","a":270,"r":0.225},{"k":"s1","a":285,"r":0.239},{"k":"s1","a":300,"r":0.245},{"k":"s1","a":315,"r":0.239},{"k":"s1","a":330,"r":0.225},{"k":"s1","a":345,"r":0.211},{"k":"s1","a":360,"r":0.205},
      {"k":"s2","a":0,"r":0.2},{"k":"s2","a":15,"r":0.205},{"k":"s2","a":30,"r":0.218},{"k":"s2","a":45,"r":0.23},{"k":"s2","a":60,"r":0.235},{"k":"s2","a":75,"r":0.23},{"k":"s2","a":90,"r":0.218},{"k":"s2","a":105,"r":0.205},{"k":"s2","a":120,"r":0.2},{"k":"s2","a":135,"r":0.205},{"k":"s2","a":150,"r":0.218},{"k":"s2","a":165,"r":0.23},{"k":"s2","a":180,"r":0.235},{"k":"s2","a":195,"r":0.23},{"k":"s2","a":210,"r":0.218},{"k":"s2","a":225,"r":0.205},{"k":"s2","a":240,"r":0.2},{"k":"s2","a":255,"r":0.205},{"k":"s2","a":270,"r":0.218},{"k":"s2","a":285,"r":0.23},{"k":"s2","a":300,"r":0.235},{"k":"s2","a":315,"r":0.23},{"k":"s2","a":330,"r":0.218},{"k":"s2","a":345,"r":0.205},{"k":"s2","a":360,"r":0.2},
      {"k":"s3","a":0,"r":0.19},{"k":"s3","a":15,"r":0.195},{"k":"s3","a":30,"r":0.208},{"k":"s3","a":45,"r":0.22},{"k":"s3","a":60,"r":0.225},{"k":"s3","a":75,"r":0.22},{"k":"s3","a":90,"r":0.208},{"k":"s3","a":105,"r":0.195},{"k":"s3","a":120,"r":0.19},{"k":"s3","a":135,"r":0.195},{"k":"s3","a":150,"r":0.208},{"k":"s3","a":165,"r":0.22},{"k":"s3","a":180,"r":0.225},{"k":"s3","a":195,"r":0.22},{"k":"s3","a":210,"r":0.208},{"k":"s3","a":225,"r":0.195},{"k":"s3","a":240,"r":0.19},{"k":"s3","a":255,"r":0.195},{"k":"s3","a":270,"r":0.208},{"k":"s3","a":285,"r":0.22},{"k":"s3","a":300,"r":0.225},{"k":"s3","a":315,"r":0.22},{"k":"s3","a":330,"r":0.208},{"k":"s3","a":345,"r":0.195},{"k":"s3","a":360,"r":0.19}
    ],
    "ED": [
      {"k":"d1","a":0,"r":0.87},{"k":"d1","a":15,"r":0.85},{"k":"d1","a":30,"r":0.8},{"k":"d1","a":45,"r":0.74},{"k":"d1","a":60,"r":0.72},{"k":"d1","a":75,"r":0.66},{"k":"d1","a":90,"r":0.6},{"k":"d1","a":105,"r":0.68},{"k":"d1","a":120,"r":0.84},{"k":"d1","a":135,"r":0.84},{"k":"d1","a":150,"r":0.78},{"k":"d1","a":165,"r":0.76},{"k":"d1","a":180,"r":0.76},{"k":"d1","a":195,"r":0.76},{"k":"d1","a":210,"r":0.78},{"k":"d1","a":225,"r":0.82},{"k":"d1","a":240,"r":0.85},{"k":"d1","a":255,"r":0.74},{"k":"d1","a":270,"r":0.6},{"k":"d1","a":285,"r":0.66},{"k":"d1","a":300,"r":0.72},{"k":"d1","a":315,"r":0.74},{"k":"d1","a":330,"r":0.8},{"k":"d1","a":345,"r":0.85},{"k":"d1","a":360,"r":0.87},
      {"k":"d2","a":0,"r":0.49},{"k":"d2","a":15,"r":0.48},{"k":"d2","a":30,"r":0.47},{"k":"d2","a":45,"r":0.46},{"k":"d2","a":60,"r":0.45},{"k":"d2","a":75,"r":0.44},{"k":"d2","a":90,"r":0.44},{"k":"d2","a":105,"r":0.47},{"k":"d2","a":120,"r":0.5},{"k":"d2","a":135,"r":0.48},{"k":"d2","a":150,"r":0.44},{"k":"d2","a":165,"r":0.4},{"k":"d2","a":180,"r":0.38},{"k":"d2","a":195,"r":0.4},{"k":"d2","a":210,"r":0.43},{"k":"d2","a":225,"r":0.47},{"k":"d2","a":240,"r":0.5},{"k":"d2","a":255,"r":0.47},{"k":"d2","a":270,"r":0.43},{"k":"d2","a":285,"r":0.44},{"k":"d2","a":300,"r":0.45},{"k":"d2","a":315,"r":0.46},{"k":"d2","a":330,"r":0.47},{"k":"d2","a":345,"r":0.48},{"k":"d2","a":360,"r":0.49},
      {"k":"d3","a":0,"r":0.28},{"k":"d3","a":15,"r":0.276},{"k":"d3","a":30,"r":0.268},{"k":"d3","a":45,"r":0.259},{"k":"d3","a":60,"r":0.255},{"k":"d3","a":75,"r":0.259},{"k":"d3","a":90,"r":0.268},{"k":"d3","a":105,"r":0.276},{"k":"d3","a":120,"r":0.28},{"k":"d3","a":135,"r":0.276},{"k":"d3","a":150,"r":0.268},{"k":"d3","a":165,"r":0.259},{"k":"d3","a":180,"r":0.255},{"k":"d3","a":195,"r":0.259},{"k":"d3","a":210,"r":0.268},{"k":"d3","a":225,"r":0.276},{"k":"d3","a":240,"r":0.28},{"k":"d3","a":255,"r":0.276},{"k":"d3","a":270,"r":0.268},{"k":"d3","a":285,"r":0.259},{"k":"d3","a":300,"r":0.255},{"k":"d3","a":315,"r":0.259},{"k":"d3","a":330,"r":0.268},{"k":"d3","a":345,"r":0.276},{"k":"d3","a":360,"r":0.28}
    ],
    "FS": [
      {"k":"s1","a":0,"r":0.36},{"k":"s1","a":15,"r":0.37},{"k":"s1","a":30,"r":0.395},{"k":"s1","a":45,"r":0.42},{"k":"s1","a":60,"r":0.43},{"k":"s1","a":75,"r":0.42},{"k":"s1","a":90,"r":0.395},{"k":"s1","a":105,"r":0.37},{"k":"s1","a":120,"r":0.36},{"k":"s1","a":135,"r":0.37},{"k":"s1","a":150,"r":0.395},{"k":"s1","a":165,"r":0.42},{"k":"s1","a":180,"r":0.43},{"k":"s1","a":195,"r":0.42},{"k":"s1","a":210,"r":0.395},{"k":"s1","a":225,"r":0.37},{"k":"s1","a":240,"r":0.36},{"k":"s1","a":255,"r":0.37},{"k":"s1","a":270,"r":0.395},{"k":"s1","a":285,"r":0.42},{"k":"s1","a":300,"r":0.43},{"k":"s1","a":315,"r":0.42},{"k":"s1","a":330,"r":0.395},{"k":"s1","a":345,"r":0.37},{"k":"s1","a":360,"r":0.36},
      {"k":"s2","a":0,"r":0.355},{"k":"s2","a":15,"r":0.365},{"k":"s2","a":30,"r":0.388},{"k":"s2","a":45,"r":0.41},{"k":"s2","a":60,"r":0.42},{"k":"s2","a":75,"r":0.41},{"k":"s2","a":90,"r":0.388},{"k":"s2","a":105,"r":0.365},{"k":"s2","a":120,"r":0.355},{"k":"s2","a":135,"r":0.365},{"k":"s2","a":150,"r":0.388},{"k":"s2","a":165,"r":0.41},{"k":"s2","a":180,"r":0.42},{"k":"s2","a":195,"r":0.41},{"k":"s2","a":210,"r":0.388},{"k":"s2","a":225,"r":0.365},{"k":"s2","a":240,"r":0.355},{"k":"s2","a":255,"r":0.365},{"k":"s2","a":270,"r":0.388},{"k":"s2","a":285,"r":0.41},{"k":"s2","a":300,"r":0.42},{"k":"s2","a":315,"r":0.41},{"k":"s2","a":330,"r":0.388},{"k":"s2","a":345,"r":0.365},{"k":"s2","a":360,"r":0.355},
      {"k":"s3","a":0,"r":0.345},{"k":"s3","a":15,"r":0.355},{"k":"s3","a":30,"r":0.378},{"k":"s3","a":45,"r":0.4},{"k":"s3","a":60,"r":0.41},{"k":"s3","a":75,"r":0.4},{"k":"s3","a":90,"r":0.378},{"k":"s3","a":105,"r":0.355},{"k":"s3","a":120,"r":0.345},{"k":"s3","a":135,"r":0.355},{"k":"s3","a":150,"r":0.378},{"k":"s3","a":165,"r":0.4},{"k":"s3","a":180,"r":0.41},{"k":"s3","a":195,"r":0.4},{"k":"s3","a":210,"r":0.378},{"k":"s3","a":225,"r":0.355},{"k":"s3","a":240,"r":0.345},{"k":"s3","a":255,"r":0.355},{"k":"s3","a":270,"r":0.378},{"k":"s3","a":285,"r":0.4},{"k":"s3","a":300,"r":0.41},{"k":"s3","a":315,"r":0.4},{"k":"s3","a":330,"r":0.378},{"k":"s3","a":345,"r":0.355},{"k":"s3","a":360,"r":0.345}
    ],
    "FD": [
      {"k":"d1","a":0,"r":0.86},{"k":"d1","a":15,"r":0.84},{"k":"d1","a":30,"r":0.78},{"k":"d1","a":45,"r":0.68},{"k":"d1","a":60,"r":0.58},{"k":"d1","a":75,"r":0.52},{"k":"d1","a":90,"r":0.5},{"k":"d1","a":105,"r":0.62},{"k":"d1","a":120,"r":0.86},{"k":"d1","a":135,"r":0.8},{"k":"d1","a":150,"r":0.67},{"k":"d1","a":165,"r":0.62},{"k":"d1","a":180,"r":0.61},{"k":"d1","a":195,"r":0.62},{"k":"d1","a":210,"r":0.67},{"k":"d1","a":225,"r":0.78},{"k":"d1","a":240,"r":0.84},{"k":"d1","a":255,"r":0.66},{"k":"d1","a":270,"r":0.47},{"k":"d1","a":285,"r":0.5},{"k":"d1","a":300,"r":0.58},{"k":"d1","a":315,"r":0.68},{"k":"d1","a":330,"r":0.78},{"k":"d1","a":345,"r":0.84},{"k":"d1","a":360,"r":0.86},
      {"k":"d2","a":0,"r":0.49},{"k":"d2","a":15,"r":0.48},{"k":"d2","a":30,"r":0.47},{"k":"d2","a":45,"r":0.46},{"k":"d2","a":60,"r":0.45},{"k":"d2","a":75,"r":0.45},{"k":"d2","a":90,"r":0.46},{"k":"d2","a":105,"r":0.49},{"k":"d2","a":120,"r":0.52},{"k":"d2","a":135,"r":0.48},{"k":"d2","a":150,"r":0.42},{"k":"d2","a":165,"r":0.38},{"k":"d2","a":180,"r":0.37},{"k":"d2","a":195,"r":0.38},{"k":"d2","a":210,"r":0.42},{"k":"d2","a":225,"r":0.48},{"k":"d2","a":240,"r":0.51},{"k":"d2","a":255,"r":0.48},{"k":"d2","a":270,"r":0.44},{"k":"d2","a":285,"r":0.44},{"k":"d2","a":300,"r":0.45},{"k":"d2","a":315,"r":0.46},{"k":"d2","a":330,"r":0.47},{"k":"d2","a":345,"r":0.48},{"k":"d2","a":360,"r":0.49},
      {"k":"d3","a":0,"r":0.15},{"k":"d3","a":15,"r":0.155},{"k":"d3","a":30,"r":0.168},{"k":"d3","a":45,"r":0.18},{"k":"d3","a":60,"r":0.185},{"k":"d3","a":75,"r":0.18},{"k":"d3","a":90,"r":0.168},{"k":"d3","a":105,"r":0.155},{"k":"d3","a":120,"r":0.15},{"k":"d3","a":135,"r":0.155},{"k":"d3","a":150,"r":0.168},{"k":"d3","a":165,"r":0.18},{"k":"d3","a":180,"r":0.185},{"k":"d3","a":195,"r":0.18},{"k":"d3","a":210,"r":0.168},{"k":"d3","a":225,"r":0.155},{"k":"d3","a":240,"r":0.15},{"k":"d3","a":255,"r":0.155},{"k":"d3","a":270,"r":0.168},{"k":"d3","a":285,"r":0.18},{"k":"d3","a":300,"r":0.185},{"k":"d3","a":315,"r":0.18},{"k":"d3","a":330,"r":0.168},{"k":"d3","a":345,"r":0.155},{"k":"d3","a":360,"r":0.15}
    ]
  },
  "resolve": {
    "scale": {"color": "independent", "strokeDash": "independent", "radius": "independent"},
    "legend": {"color": "independent", "strokeDash": "independent"}
  },
  "vconcat": [
    {
      "spacing": 0,
      "bounds": "flush",
      "resolve": {
        "scale": {"color": "independent", "strokeDash": "independent", "radius": "independent"},
        "legend": {"color": "independent", "strokeDash": "independent"}
      },
      "hconcat": [
        {
          "width": 183, "height": 197,
          "data": {"values": [{}]},
          "layer": [
            {"data": {"name": "ring"}, "mark": {"type": "arc", "theta": 0, "theta2": 6.2832, "filled": false, "stroke": "#c6c6c6", "strokeWidth": 0.8, "strokeDash": [3, 2]},
             "encoding": {"x": {"datum": 0, "type": "quantitative", "scale": {"domain": [-1.324, 1.347], "nice": false, "zero": false}},
                          "y": {"datum": 0, "type": "quantitative", "scale": {"domain": [-1.6015, 1.2745], "nice": false, "zero": false}},
                          "radius": {"field": "r", "type": "quantitative", "stack": null, "scale": {"type": "linear", "domain": [0, 1], "range": [0, 68.5], "zero": true}}}},
            {"data": {"name": "ang"}, "transform": [{"calculate": "sin(datum.a*PI/180)", "as": "gx"}, {"calculate": "-cos(datum.a*PI/180)", "as": "gy"}],
             "mark": {"type": "rule", "stroke": "#c6c6c6", "strokeWidth": 0.8, "strokeDash": [3, 2]},
             "encoding": {"x": {"field": "gx", "type": "quantitative"}, "y": {"field": "gy", "type": "quantitative"}, "x2": {"datum": 0}, "y2": {"datum": 0}}},
            {"data": {"name": "A"}, "transform": [{"calculate": "(datum.q=='t'?1:-1)*datum.r*sin(datum.a*PI/180)", "as": "px"}, {"calculate": "-datum.r*cos(datum.a*PI/180)", "as": "py"}],
             "mark": {"type": "line", "strokeWidth": 2, "interpolate": "catmull-rom"},
             "encoding": {"x": {"field": "px", "type": "quantitative"}, "y": {"field": "py", "type": "quantitative"},
                          "order": {"field": "a", "type": "quantitative"}, "detail": {"field": "q", "type": "nominal"},
                          "color": {"field": "s", "type": "nominal", "scale": {"domain": ["0.0100", "0.0120", "0.0140"], "range": ["#FFA31A", "#CF2B87", "#3C1E9A"]},
                                    "legend": {"orient": "none", "legendX": 13.7, "legendY": 172, "direction": "horizontal", "columns": 3, "title": null, "symbolType": "M-1.4,0H1.4", "symbolSize": 100, "symbolStrokeWidth": 2, "labelFont": "Liberation Serif", "labelFontSize": 11, "labelColor": "#222", "labelOffset": 6, "columnPadding": 5}}}},
            {"mark": {"type": "arc", "theta": 0, "theta2": 6.2832, "filled": false, "stroke": "#111", "strokeWidth": 1.6},
             "encoding": {"x": {"datum": 0, "type": "quantitative"}, "y": {"datum": 0, "type": "quantitative"}, "radius": {"datum": 1, "type": "quantitative", "stack": null}}},
            {"data": {"name": "ang"}, "transform": [{"calculate": "sin(datum.a*PI/180)", "as": "gx"}, {"calculate": "-cos(datum.a*PI/180)", "as": "gy"}, {"calculate": "0.95*datum.gx", "as": "hx"}, {"calculate": "0.95*datum.gy", "as": "hy"}],
             "mark": {"type": "rule", "stroke": "#111", "strokeWidth": 1.2},
             "encoding": {"x": {"field": "hx", "type": "quantitative"}, "y": {"field": "hy", "type": "quantitative"}, "x2": {"field": "gx"}, "y2": {"field": "gy"}}},
            {"mark": {"type": "rule", "stroke": "#111", "strokeWidth": 1.6},
             "encoding": {"x": {"datum": 0, "type": "quantitative"}, "y": {"datum": -1, "type": "quantitative"}, "y2": {"datum": 1}}},
            {"data": {"name": "ang"}, "transform": [{"calculate": "1.095*sin(datum.a*PI/180)", "as": "lx"}, {"calculate": "-1.095*cos(datum.a*PI/180)", "as": "ly"}],
             "mark": {"type": "text", "fontSize": 12, "font": "Liberation Serif", "color": "#222"},
             "encoding": {"x": {"field": "lx", "type": "quantitative"}, "y": {"field": "ly", "type": "quantitative"}, "text": {"field": "h"}}},
            {"mark": {"type": "text", "text": "(a)", "fontSize": 14, "align": "left", "color": "#222"}, "encoding": {"x": {"datum": -1.251, "type": "quantitative"}, "y": {"datum": 1.085, "type": "quantitative"}}},
            {"mark": {"type": "text", "text": "\u0393\u0304", "font": "DejaVu Serif", "fontSize": 13, "color": "#222"}, "encoding": {"x": {"datum": -0.39, "type": "quantitative"}, "y": {"datum": 0.23, "type": "quantitative"}}},
            {"mark": {"type": "text", "text": "(1)", "fontSize": 8.5, "color": "#222"}, "encoding": {"x": {"datum": -0.255, "type": "quantitative"}, "y": {"datum": 0.32, "type": "quantitative"}}},
            {"mark": {"type": "text", "text": "00", "fontSize": 8.5, "color": "#222"}, "encoding": {"x": {"datum": -0.26, "type": "quantitative"}, "y": {"datum": 0.14, "type": "quantitative"}}},
            {"mark": {"type": "text", "text": "\u0393\u0304", "font": "DejaVu Serif", "fontSize": 13, "color": "#222"}, "encoding": {"x": {"datum": 0.25, "type": "quantitative"}, "y": {"datum": 0.23, "type": "quantitative"}}},
            {"mark": {"type": "text", "text": "tot", "fontSize": 8.5, "color": "#222"}, "encoding": {"x": {"datum": 0.4, "type": "quantitative"}, "y": {"datum": 0.15, "type": "quantitative"}}}
          ]
        },
        {
          "width": 183, "height": 197,
          "data": {"values": [{}]},
          "layer": [
            {"data": {"name": "ring"}, "mark": {"type": "arc", "theta": 0, "theta2": 6.2832, "filled": false, "stroke": "#c6c6c6", "strokeWidth": 0.8, "strokeDash": [3, 2]},
             "encoding": {"x": {"datum": 0, "type": "quantitative", "scale": {"domain": [-1.3796, 1.292], "nice": false, "zero": false}},
                          "y": {"datum": 0, "type": "quantitative", "scale": {"domain": [-1.6015, 1.2745], "nice": false, "zero": false}},
                          "radius": {"field": "r", "type": "quantitative", "stack": null, "scale": {"type": "linear", "domain": [0, 1], "range": [0, 68.5], "zero": true}}}},
            {"data": {"name": "ang"}, "transform": [{"calculate": "sin(datum.a*PI/180)", "as": "gx"}, {"calculate": "-cos(datum.a*PI/180)", "as": "gy"}],
             "mark": {"type": "rule", "stroke": "#c6c6c6", "strokeWidth": 0.8, "strokeDash": [3, 2]},
             "encoding": {"x": {"field": "gx", "type": "quantitative"}, "y": {"field": "gy", "type": "quantitative"}, "x2": {"datum": 0}, "y2": {"datum": 0}}},
            {"data": {"name": "B"}, "transform": [{"calculate": "(datum.q=='t'?1:-1)*datum.r*sin(datum.a*PI/180)", "as": "px"}, {"calculate": "-datum.r*cos(datum.a*PI/180)", "as": "py"}],
             "mark": {"type": "line", "strokeWidth": 2, "interpolate": "catmull-rom"},
             "encoding": {"x": {"field": "px", "type": "quantitative"}, "y": {"field": "py", "type": "quantitative"},
                          "order": {"field": "a", "type": "quantitative"}, "detail": {"field": "q", "type": "nominal"},
                          "color": {"field": "s", "type": "nominal", "scale": {"domain": ["0.0100", "0.0120", "0.0132"], "range": ["#FFA31A", "#CF2B87", "#3C1E9A"]},
                                    "legend": {"orient": "none", "legendX": 15.7, "legendY": 172, "direction": "horizontal", "columns": 3, "title": null, "symbolType": "M-1.4,0H1.4", "symbolSize": 100, "symbolStrokeWidth": 2, "labelFont": "Liberation Serif", "labelFontSize": 11, "labelColor": "#222", "labelOffset": 6, "columnPadding": 5}}}},
            {"mark": {"type": "arc", "theta": 0, "theta2": 6.2832, "filled": false, "stroke": "#111", "strokeWidth": 1.6},
             "encoding": {"x": {"datum": 0, "type": "quantitative"}, "y": {"datum": 0, "type": "quantitative"}, "radius": {"datum": 1, "type": "quantitative", "stack": null}}},
            {"data": {"name": "ang"}, "transform": [{"calculate": "sin(datum.a*PI/180)", "as": "gx"}, {"calculate": "-cos(datum.a*PI/180)", "as": "gy"}, {"calculate": "0.95*datum.gx", "as": "hx"}, {"calculate": "0.95*datum.gy", "as": "hy"}],
             "mark": {"type": "rule", "stroke": "#111", "strokeWidth": 1.2},
             "encoding": {"x": {"field": "hx", "type": "quantitative"}, "y": {"field": "hy", "type": "quantitative"}, "x2": {"field": "gx"}, "y2": {"field": "gy"}}},
            {"mark": {"type": "rule", "stroke": "#111", "strokeWidth": 1.6},
             "encoding": {"x": {"datum": 0, "type": "quantitative"}, "y": {"datum": -1, "type": "quantitative"}, "y2": {"datum": 1}}},
            {"data": {"name": "ang"}, "transform": [{"calculate": "1.095*sin(datum.a*PI/180)", "as": "lx"}, {"calculate": "-1.095*cos(datum.a*PI/180)", "as": "ly"}],
             "mark": {"type": "text", "fontSize": 12, "font": "Liberation Serif", "color": "#222"},
             "encoding": {"x": {"field": "lx", "type": "quantitative"}, "y": {"field": "ly", "type": "quantitative"}, "text": {"field": "h"}}},
            {"mark": {"type": "text", "text": "(b)", "fontSize": 14, "align": "left", "color": "#222"}, "encoding": {"x": {"datum": -1.35, "type": "quantitative"}, "y": {"datum": 1.085, "type": "quantitative"}}},
            {"mark": {"type": "text", "text": "\u0393\u0304", "font": "DejaVu Serif", "fontSize": 13, "color": "#222"}, "encoding": {"x": {"datum": -0.66, "type": "quantitative"}, "y": {"datum": -0.04, "type": "quantitative"}}},
            {"mark": {"type": "text", "text": "(1)", "fontSize": 8.5, "color": "#222"}, "encoding": {"x": {"datum": -0.525, "type": "quantitative"}, "y": {"datum": 0.05, "type": "quantitative"}}},
            {"mark": {"type": "text", "text": "00", "fontSize": 8.5, "color": "#222"}, "encoding": {"x": {"datum": -0.53, "type": "quantitative"}, "y": {"datum": -0.13, "type": "quantitative"}}},
            {"mark": {"type": "text", "text": "\u0393\u0304", "font": "DejaVu Serif", "fontSize": 13, "color": "#222"}, "encoding": {"x": {"datum": 0.45, "type": "quantitative"}, "y": {"datum": -0.04, "type": "quantitative"}}},
            {"mark": {"type": "text", "text": "tot", "fontSize": 8.5, "color": "#222"}, "encoding": {"x": {"datum": 0.6, "type": "quantitative"}, "y": {"datum": -0.12, "type": "quantitative"}}}
          ]
        },
        {
          "width": 183, "height": 197,
          "data": {"values": [{}]},
          "layer": [
            {"data": {"name": "ring"}, "mark": {"type": "arc", "theta": 0, "theta2": 6.2832, "filled": false, "stroke": "#c6c6c6", "strokeWidth": 0.8, "strokeDash": [3, 2]},
             "encoding": {"x": {"datum": 0, "type": "quantitative", "scale": {"domain": [-1.397, 1.274], "nice": false, "zero": false}},
                          "y": {"datum": 0, "type": "quantitative", "scale": {"domain": [-1.6015, 1.2745], "nice": false, "zero": false}},
                          "radius": {"field": "r", "type": "quantitative", "stack": null, "scale": {"type": "linear", "domain": [0, 1], "range": [0, 68.5], "zero": true}}}},
            {"data": {"name": "ang"}, "transform": [{"calculate": "sin(datum.a*PI/180)", "as": "gx"}, {"calculate": "-cos(datum.a*PI/180)", "as": "gy"}],
             "mark": {"type": "rule", "stroke": "#c6c6c6", "strokeWidth": 0.8, "strokeDash": [3, 2]},
             "encoding": {"x": {"field": "gx", "type": "quantitative"}, "y": {"field": "gy", "type": "quantitative"}, "x2": {"datum": 0}, "y2": {"datum": 0}}},
            {"data": {"name": "C"}, "transform": [{"calculate": "(datum.q=='t'?1:-1)*datum.r*sin(datum.a*PI/180)", "as": "px"}, {"calculate": "-datum.r*cos(datum.a*PI/180)", "as": "py"}],
             "mark": {"type": "line", "strokeWidth": 2, "interpolate": "catmull-rom"},
             "encoding": {"x": {"field": "px", "type": "quantitative"}, "y": {"field": "py", "type": "quantitative"},
                          "order": {"field": "a", "type": "quantitative"}, "detail": {"field": "q", "type": "nominal"},
                          "color": {"field": "s", "type": "nominal", "scale": {"domain": ["0.0080", "0.0100", "0.0118"], "range": ["#FFA31A", "#CF2B87", "#3C1E9A"]},
                                    "legend": {"orient": "none", "legendX": 16, "legendY": 172, "direction": "horizontal", "columns": 3, "title": null, "symbolType": "M-1.4,0H1.4", "symbolSize": 100, "symbolStrokeWidth": 2, "labelFont": "Liberation Serif", "labelFontSize": 11, "labelColor": "#222", "labelOffset": 6, "columnPadding": 5}}}},
            {"mark": {"type": "arc", "theta": 0, "theta2": 6.2832, "filled": false, "stroke": "#111", "strokeWidth": 1.6},
             "encoding": {"x": {"datum": 0, "type": "quantitative"}, "y": {"datum": 0, "type": "quantitative"}, "radius": {"datum": 1, "type": "quantitative", "stack": null}}},
            {"data": {"name": "ang"}, "transform": [{"calculate": "sin(datum.a*PI/180)", "as": "gx"}, {"calculate": "-cos(datum.a*PI/180)", "as": "gy"}, {"calculate": "0.95*datum.gx", "as": "hx"}, {"calculate": "0.95*datum.gy", "as": "hy"}],
             "mark": {"type": "rule", "stroke": "#111", "strokeWidth": 1.2},
             "encoding": {"x": {"field": "hx", "type": "quantitative"}, "y": {"field": "hy", "type": "quantitative"}, "x2": {"field": "gx"}, "y2": {"field": "gy"}}},
            {"mark": {"type": "rule", "stroke": "#111", "strokeWidth": 1.6},
             "encoding": {"x": {"datum": 0, "type": "quantitative"}, "y": {"datum": -1, "type": "quantitative"}, "y2": {"datum": 1}}},
            {"data": {"name": "ang"}, "transform": [{"calculate": "1.095*sin(datum.a*PI/180)", "as": "lx"}, {"calculate": "-1.095*cos(datum.a*PI/180)", "as": "ly"}],
             "mark": {"type": "text", "fontSize": 12, "font": "Liberation Serif", "color": "#222"},
             "encoding": {"x": {"field": "lx", "type": "quantitative"}, "y": {"field": "ly", "type": "quantitative"}, "text": {"field": "h"}}},
            {"mark": {"type": "text", "text": "(c)", "fontSize": 14, "align": "left", "color": "#222"}, "encoding": {"x": {"datum": -1.339, "type": "quantitative"}, "y": {"datum": 1.085, "type": "quantitative"}}},
            {"mark": {"type": "text", "text": "\u0393\u0304", "font": "DejaVu Serif", "fontSize": 13, "color": "#222"}, "encoding": {"x": {"datum": -0.69, "type": "quantitative"}, "y": {"datum": -0.04, "type": "quantitative"}}},
            {"mark": {"type": "text", "text": "(1)", "fontSize": 8.5, "color": "#222"}, "encoding": {"x": {"datum": -0.555, "type": "quantitative"}, "y": {"datum": 0.05, "type": "quantitative"}}},
            {"mark": {"type": "text", "text": "00", "fontSize": 8.5, "color": "#222"}, "encoding": {"x": {"datum": -0.56, "type": "quantitative"}, "y": {"datum": -0.13, "type": "quantitative"}}},
            {"mark": {"type": "text", "text": "\u0393\u0304", "font": "DejaVu Serif", "fontSize": 13, "color": "#222"}, "encoding": {"x": {"datum": 0.48, "type": "quantitative"}, "y": {"datum": -0.04, "type": "quantitative"}}},
            {"mark": {"type": "text", "text": "tot", "fontSize": 8.5, "color": "#222"}, "encoding": {"x": {"datum": 0.63, "type": "quantitative"}, "y": {"datum": -0.12, "type": "quantitative"}}}
          ]
        }
      ]
    },
    {
      "spacing": 0,
      "bounds": "flush",
      "resolve": {
        "scale": {"color": "independent", "strokeDash": "independent", "radius": "independent"},
        "legend": {"color": "independent", "strokeDash": "independent"}
      },
      "hconcat": [
        {
          "width": 183, "height": 205,
          "data": {"values": [{}]},
          "layer": [
            {"data": {"name": "ring"}, "mark": {"type": "arc", "theta": 0, "theta2": 6.2832, "filled": false, "stroke": "#c6c6c6", "strokeWidth": 0.8, "strokeDash": [3, 2]},
             "encoding": {"x": {"datum": 0, "type": "quantitative", "scale": {"domain": [-1.417, 1.42], "nice": false, "zero": false}},
                          "y": {"datum": 0, "type": "quantitative", "scale": {"domain": [-1.86, 1.318], "nice": false, "zero": false}},
                          "radius": {"field": "r", "type": "quantitative", "stack": null, "scale": {"type": "linear", "domain": [0, 1], "range": [0, 64.5], "zero": true}}}},
            {"data": {"name": "ang"}, "transform": [{"calculate": "sin(datum.a*PI/180)", "as": "gx"}, {"calculate": "-cos(datum.a*PI/180)", "as": "gy"}],
             "mark": {"type": "rule", "stroke": "#c6c6c6", "strokeWidth": 0.8, "strokeDash": [3, 2]},
             "encoding": {"x": {"field": "gx", "type": "quantitative"}, "y": {"field": "gy", "type": "quantitative"}, "x2": {"datum": 0}, "y2": {"datum": 0}}},
            {"data": {"name": "DS"}, "transform": [{"calculate": "datum.r*sin(datum.a*PI/180)", "as": "px"}, {"calculate": "-datum.r*cos(datum.a*PI/180)", "as": "py"}],
             "mark": {"type": "line", "strokeWidth": 2.8, "interpolate": "catmull-rom"},
             "encoding": {"x": {"field": "px", "type": "quantitative"}, "y": {"field": "py", "type": "quantitative"}, "order": {"field": "a", "type": "quantitative"},
                          "color": {"field": "k", "type": "nominal", "scale": {"domain": ["d1", "d2", "d3", "s1", "s2", "s3"], "range": ["#F4813F", "#B3339C", "#48309C", "#F4813F", "#B3339C", "#48309C"]},
                                    "legend": {"orient": "none", "legendX": 4, "legendY": 167, "columns": 2, "title": null, "symbolType": "M-1.5,0H1.5", "symbolSize": 100, "symbolStrokeWidth": 2, "labelFont": "Liberation Serif", "labelFontSize": 10.5, "labelColor": "#222", "labelOffset": 6.5, "columnPadding": 2, "rowPadding": 0,
                                               "labelExpr": "datum.label=='d1'?'0.0100 (45°)':datum.label=='s1'?'0.0100 (150°, ×40)':datum.label=='d2'?'0.0120 (45°)':datum.label=='s2'?'0.0120 (150°, ×40)':datum.label=='d3'?'0.0140 (45°)':'0.0140 (150°, ×40)'"}},
                          "strokeDash": {"field": "k", "type": "nominal", "scale": {"domain": ["d1", "d2", "d3", "s1", "s2", "s3"], "range": [[3.5, 2], [3.5, 2], [3.5, 2], [1, 0], [1, 0], [1, 0]]}}}},
            {"data": {"name": "DD"}, "transform": [{"calculate": "datum.r*sin(datum.a*PI/180)", "as": "px"}, {"calculate": "-datum.r*cos(datum.a*PI/180)", "as": "py"}],
             "mark": {"type": "line", "strokeWidth": 1.6, "interpolate": "catmull-rom"},
             "encoding": {"x": {"field": "px", "type": "quantitative"}, "y": {"field": "py", "type": "quantitative"}, "order": {"field": "a", "type": "quantitative"},
                          "color": {"field": "k", "type": "nominal", "scale": {"domain": ["d1", "d2", "d3", "s1", "s2", "s3"], "range": ["#F4813F", "#B3339C", "#48309C", "#F4813F", "#B3339C", "#48309C"]}},
                          "strokeDash": {"field": "k", "type": "nominal", "scale": {"domain": ["d1", "d2", "d3", "s1", "s2", "s3"], "range": [[3.5, 2], [3.5, 2], [3.5, 2], [1, 0], [1, 0], [1, 0]]}}}},
            {"mark": {"type": "arc", "theta": 0, "theta2": 6.2832, "filled": false, "stroke": "#111", "strokeWidth": 1.6},
             "encoding": {"x": {"datum": 0, "type": "quantitative"}, "y": {"datum": 0, "type": "quantitative"}, "radius": {"datum": 1, "type": "quantitative", "stack": null}}},
            {"data": {"name": "ang"}, "transform": [{"calculate": "sin(datum.a*PI/180)", "as": "gx"}, {"calculate": "-cos(datum.a*PI/180)", "as": "gy"}, {"calculate": "0.95*datum.gx", "as": "hx"}, {"calculate": "0.95*datum.gy", "as": "hy"}],
             "mark": {"type": "rule", "stroke": "#111", "strokeWidth": 1.2},
             "encoding": {"x": {"field": "hx", "type": "quantitative"}, "y": {"field": "hy", "type": "quantitative"}, "x2": {"field": "gx"}, "y2": {"field": "gy"}}},
            {"data": {"name": "ang"}, "transform": [{"calculate": "1.165*sin(datum.a*PI/180)", "as": "lx"}, {"calculate": "-1.165*cos(datum.a*PI/180)", "as": "ly"}],
             "mark": {"type": "text", "fontSize": 12, "font": "Liberation Serif", "color": "#222"},
             "encoding": {"x": {"field": "lx", "type": "quantitative"}, "y": {"field": "ly", "type": "quantitative"}, "text": {"field": "f"}}},
            {"mark": {"type": "text", "text": "(d)", "fontSize": 14, "align": "left", "color": "#222"}, "encoding": {"x": {"datum": -1.34, "type": "quantitative"}, "y": {"datum": 1.167, "type": "quantitative"}}}
          ]
        },
        {
          "width": 183, "height": 205,
          "data": {"values": [{}]},
          "layer": [
            {"data": {"name": "ring"}, "mark": {"type": "arc", "theta": 0, "theta2": 6.2832, "filled": false, "stroke": "#c6c6c6", "strokeWidth": 0.8, "strokeDash": [3, 2]},
             "encoding": {"x": {"datum": 0, "type": "quantitative", "scale": {"domain": [-1.454, 1.383], "nice": false, "zero": false}},
                          "y": {"datum": 0, "type": "quantitative", "scale": {"domain": [-1.86, 1.318], "nice": false, "zero": false}},
                          "radius": {"field": "r", "type": "quantitative", "stack": null, "scale": {"type": "linear", "domain": [0, 1], "range": [0, 64.5], "zero": true}}}},
            {"data": {"name": "ang"}, "transform": [{"calculate": "sin(datum.a*PI/180)", "as": "gx"}, {"calculate": "-cos(datum.a*PI/180)", "as": "gy"}],
             "mark": {"type": "rule", "stroke": "#c6c6c6", "strokeWidth": 0.8, "strokeDash": [3, 2]},
             "encoding": {"x": {"field": "gx", "type": "quantitative"}, "y": {"field": "gy", "type": "quantitative"}, "x2": {"datum": 0}, "y2": {"datum": 0}}},
            {"data": {"name": "ED"}, "transform": [{"calculate": "datum.r*sin(datum.a*PI/180)", "as": "px"}, {"calculate": "-datum.r*cos(datum.a*PI/180)", "as": "py"}],
             "mark": {"type": "line", "strokeWidth": 1.6, "interpolate": "catmull-rom"},
             "encoding": {"x": {"field": "px", "type": "quantitative"}, "y": {"field": "py", "type": "quantitative"}, "order": {"field": "a", "type": "quantitative"},
                          "color": {"field": "k", "type": "nominal", "scale": {"domain": ["d1", "d2", "d3", "s1", "s2", "s3"], "range": ["#F4813F", "#B3339C", "#48309C", "#F4813F", "#B3339C", "#48309C"]},
                                    "legend": {"orient": "none", "legendX": 16, "legendY": 167, "columns": 2, "title": null, "symbolType": "M-1.5,0H1.5", "symbolSize": 100, "symbolStrokeWidth": 2, "labelFont": "Liberation Serif", "labelFontSize": 11, "labelColor": "#222", "labelOffset": 6.5, "columnPadding": 6, "rowPadding": 0,
                                               "labelExpr": "datum.label=='d1'?'0.0100 (30°)':datum.label=='s1'?'0.0100 (120°)':datum.label=='d2'?'0.0120 (30°)':datum.label=='s2'?'0.0120 (120°)':datum.label=='d3'?'0.0132 (30°)':'0.0132 (120°)'"}},
                          "strokeDash": {"field": "k", "type": "nominal", "scale": {"domain": ["d1", "d2", "d3", "s1", "s2", "s3"], "range": [[3.5, 2], [3.5, 2], [3.5, 2], [1, 0], [1, 0], [1, 0]]}}}},
            {"data": {"name": "ES"}, "transform": [{"calculate": "datum.r*sin(datum.a*PI/180)", "as": "px"}, {"calculate": "-datum.r*cos(datum.a*PI/180)", "as": "py"}],
             "mark": {"type": "line", "strokeWidth": 2.8, "interpolate": "catmull-rom"},
             "encoding": {"x": {"field": "px", "type": "quantitative"}, "y": {"field": "py", "type": "quantitative"}, "order": {"field": "a", "type": "quantitative"},
                          "color": {"field": "k", "type": "nominal", "scale": {"domain": ["d1", "d2", "d3", "s1", "s2", "s3"], "range": ["#F4813F", "#B3339C", "#48309C", "#F4813F", "#B3339C", "#48309C"]}},
                          "strokeDash": {"field": "k", "type": "nominal", "scale": {"domain": ["d1", "d2", "d3", "s1", "s2", "s3"], "range": [[3.5, 2], [3.5, 2], [3.5, 2], [1, 0], [1, 0], [1, 0]]}}}},
            {"mark": {"type": "arc", "theta": 0, "theta2": 6.2832, "filled": false, "stroke": "#111", "strokeWidth": 1.6},
             "encoding": {"x": {"datum": 0, "type": "quantitative"}, "y": {"datum": 0, "type": "quantitative"}, "radius": {"datum": 1, "type": "quantitative", "stack": null}}},
            {"data": {"name": "ang"}, "transform": [{"calculate": "sin(datum.a*PI/180)", "as": "gx"}, {"calculate": "-cos(datum.a*PI/180)", "as": "gy"}, {"calculate": "0.95*datum.gx", "as": "hx"}, {"calculate": "0.95*datum.gy", "as": "hy"}],
             "mark": {"type": "rule", "stroke": "#111", "strokeWidth": 1.2},
             "encoding": {"x": {"field": "hx", "type": "quantitative"}, "y": {"field": "hy", "type": "quantitative"}, "x2": {"field": "gx"}, "y2": {"field": "gy"}}},
            {"data": {"name": "ang"}, "transform": [{"calculate": "1.165*sin(datum.a*PI/180)", "as": "lx"}, {"calculate": "-1.165*cos(datum.a*PI/180)", "as": "ly"}],
             "mark": {"type": "text", "fontSize": 12, "font": "Liberation Serif", "color": "#222"},
             "encoding": {"x": {"field": "lx", "type": "quantitative"}, "y": {"field": "ly", "type": "quantitative"}, "text": {"field": "f"}}},
            {"mark": {"type": "text", "text": "(e)", "fontSize": 14, "align": "left", "color": "#222"}, "encoding": {"x": {"datum": -1.222, "type": "quantitative"}, "y": {"datum": 1.167, "type": "quantitative"}}}
          ]
        },
        {
          "width": 183, "height": 205,
          "data": {"values": [{}]},
          "layer": [
            {"data": {"name": "ring"}, "mark": {"type": "arc", "theta": 0, "theta2": 6.2832, "filled": false, "stroke": "#c6c6c6", "strokeWidth": 0.8, "strokeDash": [3, 2]},
             "encoding": {"x": {"datum": 0, "type": "quantitative", "scale": {"domain": [-1.485, 1.352], "nice": false, "zero": false}},
                          "y": {"datum": 0, "type": "quantitative", "scale": {"domain": [-1.86, 1.318], "nice": false, "zero": false}},
                          "radius": {"field": "r", "type": "quantitative", "stack": null, "scale": {"type": "linear", "domain": [0, 1], "range": [0, 64.5], "zero": true}}}},
            {"data": {"name": "ang"}, "transform": [{"calculate": "sin(datum.a*PI/180)", "as": "gx"}, {"calculate": "-cos(datum.a*PI/180)", "as": "gy"}],
             "mark": {"type": "rule", "stroke": "#c6c6c6", "strokeWidth": 0.8, "strokeDash": [3, 2]},
             "encoding": {"x": {"field": "gx", "type": "quantitative"}, "y": {"field": "gy", "type": "quantitative"}, "x2": {"datum": 0}, "y2": {"datum": 0}}},
            {"data": {"name": "FD"}, "transform": [{"calculate": "datum.r*sin(datum.a*PI/180)", "as": "px"}, {"calculate": "-datum.r*cos(datum.a*PI/180)", "as": "py"}],
             "mark": {"type": "line", "strokeWidth": 1.6, "interpolate": "catmull-rom"},
             "encoding": {"x": {"field": "px", "type": "quantitative"}, "y": {"field": "py", "type": "quantitative"}, "order": {"field": "a", "type": "quantitative"},
                          "color": {"field": "k", "type": "nominal", "scale": {"domain": ["d1", "d2", "d3", "s1", "s2", "s3"], "range": ["#F4813F", "#B3339C", "#48309C", "#F4813F", "#B3339C", "#48309C"]},
                                    "legend": {"orient": "none", "legendX": 18, "legendY": 167, "columns": 2, "title": null, "symbolType": "M-1.5,0H1.5", "symbolSize": 100, "symbolStrokeWidth": 2, "labelFont": "Liberation Serif", "labelFontSize": 11, "labelColor": "#222", "labelOffset": 6.5, "columnPadding": 6, "rowPadding": 0,
                                               "labelExpr": "datum.label=='d1'?'0.0080 (30°)':datum.label=='s1'?'0.0080 (105°)':datum.label=='d2'?'0.0100 (30°)':datum.label=='s2'?'0.0100 (105°)':datum.label=='d3'?'0.0118 (30°)':'0.0118 (105°)'"}},
                          "strokeDash": {"field": "k", "type": "nominal", "scale": {"domain": ["d1", "d2", "d3", "s1", "s2", "s3"], "range": [[3.5, 2], [3.5, 2], [3.5, 2], [1, 0], [1, 0], [1, 0]]}}}},
            {"data": {"name": "FS"}, "transform": [{"calculate": "datum.r*sin(datum.a*PI/180)", "as": "px"}, {"calculate": "-datum.r*cos(datum.a*PI/180)", "as": "py"}],
             "mark": {"type": "line", "strokeWidth": 2.8, "interpolate": "catmull-rom"},
             "encoding": {"x": {"field": "px", "type": "quantitative"}, "y": {"field": "py", "type": "quantitative"}, "order": {"field": "a", "type": "quantitative"},
                          "color": {"field": "k", "type": "nominal", "scale": {"domain": ["d1", "d2", "d3", "s1", "s2", "s3"], "range": ["#F4813F", "#B3339C", "#48309C", "#F4813F", "#B3339C", "#48309C"]}},
                          "strokeDash": {"field": "k", "type": "nominal", "scale": {"domain": ["d1", "d2", "d3", "s1", "s2", "s3"], "range": [[3.5, 2], [3.5, 2], [3.5, 2], [1, 0], [1, 0], [1, 0]]}}}},
            {"mark": {"type": "arc", "theta": 0, "theta2": 6.2832, "filled": false, "stroke": "#111", "strokeWidth": 1.6},
             "encoding": {"x": {"datum": 0, "type": "quantitative"}, "y": {"datum": 0, "type": "quantitative"}, "radius": {"datum": 1, "type": "quantitative", "stack": null}}},
            {"data": {"name": "ang"}, "transform": [{"calculate": "sin(datum.a*PI/180)", "as": "gx"}, {"calculate": "-cos(datum.a*PI/180)", "as": "gy"}, {"calculate": "0.95*datum.gx", "as": "hx"}, {"calculate": "0.95*datum.gy", "as": "hy"}],
             "mark": {"type": "rule", "stroke": "#111", "strokeWidth": 1.2},
             "encoding": {"x": {"field": "hx", "type": "quantitative"}, "y": {"field": "hy", "type": "quantitative"}, "x2": {"field": "gx"}, "y2": {"field": "gy"}}},
            {"data": {"name": "ang"}, "transform": [{"calculate": "1.165*sin(datum.a*PI/180)", "as": "lx"}, {"calculate": "-1.165*cos(datum.a*PI/180)", "as": "ly"}],
             "mark": {"type": "text", "fontSize": 12, "font": "Liberation Serif", "color": "#222"},
             "encoding": {"x": {"field": "lx", "type": "quantitative"}, "y": {"field": "ly", "type": "quantitative"}, "text": {"field": "f"}}},
            {"mark": {"type": "text", "text": "(f)", "fontSize": 14, "align": "left", "color": "#222"}, "encoding": {"x": {"datum": -1.19, "type": "quantitative"}, "y": {"datum": 1.167, "type": "quantitative"}}}
          ]
        }
      ]
    }
  ]
}
